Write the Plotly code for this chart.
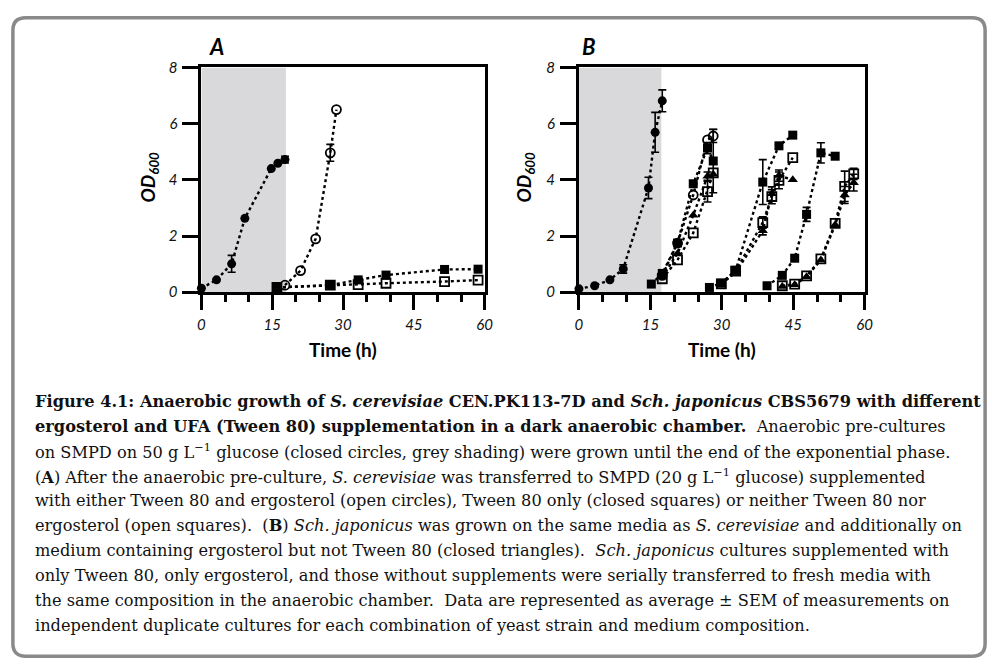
import numpy as np
import plotly.graph_objects as go

nan = np.nan

# ---------------- Panel A : S. cerevisiae ----------------
A_shade_end = 17.9
A_pre_t = [0, 3.2, 6.4, 9.2, 14.8, 16.2, 17.7]
A_pre_od = [0.14, 0.44, 1.01, 2.63, 4.40, 4.59, 4.72]
A_pre_err = [nan, nan, 0.30, nan, nan, nan, 0.12]

A_te_t = [17.7, 21.0, 24.2, 27.3, 28.6]          # Tween 80 + ergosterol (open circles)
A_te_od = [0.25, 0.77, 1.90, 4.96, 6.50]
A_te_err = [nan, nan, nan, 0.30, nan]

A_tw_t = [16.0, 27.3, 33.2, 39.1, 51.5, 58.6]    # Tween 80 only (closed squares)
A_tw_od = [0.17, 0.25, 0.44, 0.61, 0.81, 0.82]
A_tw_err = [nan, nan, nan, nan, nan, nan]

A_no_t = [16.0, 27.3, 33.2, 39.1, 51.5, 58.6]    # neither (open squares)
A_no_od = [0.17, 0.25, 0.27, 0.32, 0.38, 0.43]
A_no_err = [nan, nan, nan, nan, nan, nan]

# ---------------- Panel B : Sch. japonicus ----------------
B_shade_end = 17.3
B_pre_t = [0, 3.3, 6.5, 9.3, 14.6, 16.0, 17.5]
B_pre_od = [0.12, 0.23, 0.44, 0.83, 3.71, 5.69, 6.81]
B_pre_err = [nan, nan, nan, 0.15, 0.38, 0.71, 0.39]

B_te_t = [17.5, 20.7, 24.0, 27.0, 28.2]          # Tween 80 + ergosterol (open circles)
B_te_od = [0.60, 1.75, 3.46, 5.42, 5.56]
B_te_err = [nan, nan, nan, nan, 0.23]

# Tween 80 only (closed squares), three serial transfers
B_tw1_t = [15.2, 17.5, 20.7, 24.0, 27.0, 28.2]
B_tw1_od = [0.29, 0.67, 1.75, 3.86, 5.13, 4.67]
B_tw1_err = [nan, nan, nan, nan, 0.20, 1.13]
B_tw2_t = [27.4, 29.9, 32.9, 38.6, 42.0, 44.9]
B_tw2_od = [0.17, 0.32, 0.78, 3.92, 5.21, 5.59]
B_tw2_err = [nan, nan, nan, 0.80, nan, nan]
B_tw3_t = [39.5, 42.7, 45.3, 47.8, 50.8, 53.8]
B_tw3_od = [0.23, 0.60, 1.21, 2.77, 4.96, 4.84]
B_tw3_err = [nan, nan, nan, 0.25, 0.36, nan]

# ergosterol only (closed triangles)
B_er1_t = [17.5, 20.7, 24.0, 27.0, 28.2]
B_er1_od = [0.55, 1.38, 2.74, 4.13, 4.20]
B_er1_err = [nan, nan, nan, 0.15, nan]
B_er2_t = [29.9, 32.9, 38.6, 40.5, 42.0, 44.9]
B_er2_od = [0.30, 0.70, 2.19, 3.50, 4.15, 4.00]
B_er2_err = [nan, nan, 0.15, 0.25, 0.20, nan]
B_er3_t = [42.7, 45.3, 47.8, 50.8, 53.8, 55.8, 57.7]
B_er3_od = [0.20, 0.27, 0.55, 1.15, 2.40, 3.46, 3.90]
B_er3_err = [nan, nan, nan, nan, nan, 0.30, 0.30]

# neither (open squares)
B_no1_t = [17.5, 20.7, 24.0, 27.0, 28.2]
B_no1_od = [0.48, 1.15, 2.11, 3.58, 4.25]
B_no1_err = [nan, nan, nan, 0.37, nan]
B_no2_t = [29.9, 32.9, 38.6, 40.5, 42.0, 44.9]
B_no2_od = [0.30, 0.75, 2.48, 3.40, 3.98, 4.79]
B_no2_err = [nan, nan, 0.20, 0.25, 0.30, nan]
B_no3_t = [42.7, 45.3, 47.8, 50.8, 53.8, 55.8, 57.7]
B_no3_od = [0.23, 0.29, 0.58, 1.19, 2.45, 3.77, 4.21]
B_no3_err = [nan, nan, nan, nan, nan, 0.54, 0.20]

x_ticks = [0, 15, 30, 45, 60]
y_ticks = [0, 2, 4, 6, 8]
panel_labels = ["A", "B"]
x_title = "Time (h)"
y_title = "OD"
y_sub = "600"

caption_lines = [
    "<b>Figure 4.1: Anaerobic growth of <i>S. cerevisiae</i> CEN.PK113-7D and <i>Sch. japonicus</i> CBS5679 with different</b>",
    "<b>ergosterol and UFA (Tween 80) supplementation in a dark anaerobic chamber.</b>  Anaerobic pre-cultures",
    "on SMPD on 50 g L<sup>\u22121</sup> glucose (closed circles, grey shading) were grown until the end of the exponential phase.",
    "(<b>A</b>) After the anaerobic pre-culture, <i>S. cerevisiae</i> was transferred to SMPD (20 g L<sup>\u22121</sup> glucose) supplemented",
    "with either Tween 80 and ergosterol (open circles), Tween 80 only (closed squares) or neither Tween 80 nor",
    "ergosterol (open squares).  (<b>B</b>) <i>Sch. japonicus</i> was grown on the same media as <i>S. cerevisiae</i> and additionally on",
    "medium containing ergosterol but not Tween 80 (closed triangles).  <i>Sch. japonicus</i> cultures supplemented with",
    "only Tween 80, only ergosterol, and those without supplements were serially transferred to fresh media with",
    "the same composition in the anaerobic chamber.  Data are represented as average \u00b1 SEM of measurements on",
    "independent duplicate cultures for each combination of yeast strain and medium composition.",
]

W, H = 1002, 671
def PX(x):
    return x / W
def PY(y):
    return 1 - y / H

TICK_FONT = dict(family="Lato", size=15, color="#111111", style="italic")
TITLE_FONT = dict(family="Lato", size=19, color="#000000")

fig = go.Figure()

STY = {
    "cc": dict(symbol="circle", size=9, color="black", line=dict(width=0)),
    "oc": dict(symbol="circle-open", size=9, color="black", line=dict(width=1.8)),
    "cs": dict(symbol="square", size=9, color="black", line=dict(width=0)),
    "os": dict(symbol="square-open", size=9, color="black", line=dict(width=1.8)),
    "tr": dict(symbol="triangle-up", size=9, color="black", line=dict(width=0)),
}

def add_series(t, od, err, sty, xa, ya):
    t = list(t); od = list(od); err = list(err)
    et = [ti for ti, e in zip(t, err) if not np.isnan(e)]
    eo = [oi for oi, e in zip(od, err) if not np.isnan(e)]
    ee = [e for e in err if not np.isnan(e)]
    if ee:
        fig.add_trace(go.Scatter(
            x=et, y=eo, mode="markers", xaxis=xa, yaxis=ya,
            marker=dict(size=1, opacity=0),
            error_y=dict(type="data", array=ee, color="black", thickness=1.6, width=4),
            cliponaxis=False, showlegend=False, hoverinfo="skip"))
    fig.add_trace(go.Scatter(
        x=t, y=od, mode="lines+markers",
        xaxis=xa, yaxis=ya,
        line=dict(color="black", width=2.4, dash="dot"),
        marker=STY[sty], cliponaxis=False, showlegend=False))

# Panel A
add_series(A_no_t, A_no_od, A_no_err, "os", "x", "y")
add_series(A_tw_t, A_tw_od, A_tw_err, "cs", "x", "y")
add_series(A_te_t, A_te_od, A_te_err, "oc", "x", "y")
add_series(A_pre_t, A_pre_od, A_pre_err, "cc", "x", "y")

# Panel B
for t, o, e in [(B_no1_t, B_no1_od, B_no1_err), (B_no2_t, B_no2_od, B_no2_err), (B_no3_t, B_no3_od, B_no3_err)]:
    add_series(t, o, e, "os", "x2", "y2")
for t, o, e in [(B_er1_t, B_er1_od, B_er1_err), (B_er2_t, B_er2_od, B_er2_err), (B_er3_t, B_er3_od, B_er3_err)]:
    add_series(t, o, e, "tr", "x2", "y2")
for t, o, e in [(B_tw1_t, B_tw1_od, B_tw1_err), (B_tw2_t, B_tw2_od, B_tw2_err), (B_tw3_t, B_tw3_od, B_tw3_err)]:
    add_series(t, o, e, "cs", "x2", "y2")
add_series(B_te_t, B_te_od, B_te_err, "oc", "x2", "y2")
add_series(B_pre_t, B_pre_od, B_pre_err, "cc", "x2", "y2")

x_common = dict(range=[0, 60], tickvals=x_ticks, ticktext=[str(v) for v in x_ticks],
                showline=True, linewidth=3, linecolor="black", mirror=True,
                ticks="outside", ticklen=15, tickwidth=3, tickcolor="black",
                minor=dict(dtick=5, tick0=0, ticks="outside", ticklen=7, tickwidth=3, tickcolor="black", showgrid=False),
                showgrid=False, zeroline=False, tickfont=TICK_FONT, ticklabelstandoff=2, fixedrange=True)
y_common = dict(range=[0, 8], tickvals=y_ticks, ticktext=[str(v) for v in y_ticks],
                showline=True, linewidth=3, linecolor="black", mirror=True,
                ticks="outside", ticklen=16, tickwidth=3, tickcolor="black",
                showgrid=False, zeroline=False, tickfont=TICK_FONT, ticklabelstandoff=2, fixedrange=True)

y_dom = [PY(290), PY(59)]
fig.update_layout(
    xaxis=dict(domain=[PX(200), PX(487)], anchor="y", **x_common),
    yaxis=dict(domain=y_dom, anchor="x", **y_common),
    xaxis2=dict(domain=[PX(582.5), PX(872)], anchor="y2", **x_common),
    yaxis2=dict(domain=y_dom, anchor="x2", **y_common),
    width=W, height=H, autosize=False,
    margin=dict(l=0, r=0, t=0, b=0),
    paper_bgcolor="white", plot_bgcolor="white",
    showlegend=False,
)

shapes = [
    dict(type="rect", xref="x", yref="y", x0=0, x1=A_shade_end, y0=0, y1=8,
         fillcolor="#d9d9db", line=dict(width=0), layer="below"),
    dict(type="rect", xref="x2", yref="y2", x0=0, x1=B_shade_end, y0=0, y1=8,
         fillcolor="#d9d9db", line=dict(width=0), layer="below"),
]
# rounded frame around the whole figure
x0, x1, y0, y1, r = 9, 994, 8, 664, 13
path = (f"M {PX(x0+r)},{PY(y0)} L {PX(x1-r)},{PY(y0)} Q {PX(x1)},{PY(y0)} {PX(x1)},{PY(y0+r)} "
        f"L {PX(x1)},{PY(y1-r)} Q {PX(x1)},{PY(y1)} {PX(x1-r)},{PY(y1)} "
        f"L {PX(x0+r)},{PY(y1)} Q {PX(x0)},{PY(y1)} {PX(x0)},{PY(y1-r)} "
        f"L {PX(x0)},{PY(y0+r)} Q {PX(x0)},{PY(y0)} {PX(x0+r)},{PY(y0)} Z")
shapes.append(dict(type="path", xref="paper", yref="paper", path=path,
                   line=dict(color="#8a8a8a", width=3.5), fillcolor="rgba(0,0,0,0)"))
fig.update_layout(shapes=shapes)

ann = []
# panel letters
for lab, xp in zip(panel_labels, [215, 593]):
    ann.append(dict(text=f"<b><i>{lab}</i></b>", x=PX(xp), y=PY(38), xref="paper", yref="paper",
                    showarrow=False, font=dict(family="Lato", size=22, color="black"),
                    xanchor="center", yanchor="middle"))
# axis titles
for xc in [343.5, 727]:
    ann.append(dict(text=f"<b>{x_title}</b>", x=PX(xc), y=PY(349), xref="paper", yref="paper",
                    showarrow=False, font=TITLE_FONT, xanchor="center", yanchor="middle"))
for xc in [147, 528]:
    ann.append(dict(text=f"<b><i>{y_title}</i></b><sub><b><i>{y_sub}</i></b></sub>", x=PX(xc), y=PY(172),
                    xref="paper", yref="paper", showarrow=False, textangle=-90,
                    font=TITLE_FONT, xanchor="center", yanchor="middle"))
# caption
for i, line in enumerate(caption_lines):
    ann.append(dict(text=line, x=PX(29), y=PY(402 + i * 25.6), xref="paper", yref="paper",
                    showarrow=False, xanchor="left", yanchor="middle", align="left",
                    font=dict(family="DejaVu Serif", size=16.2, color="#111111")))
fig.update_layout(annotations=ann)

fig.write_html("out.html",
               config={"displayModeBar": False},
               post_script="document.body.style.margin='0';document.body.style.overflow='hidden';")
